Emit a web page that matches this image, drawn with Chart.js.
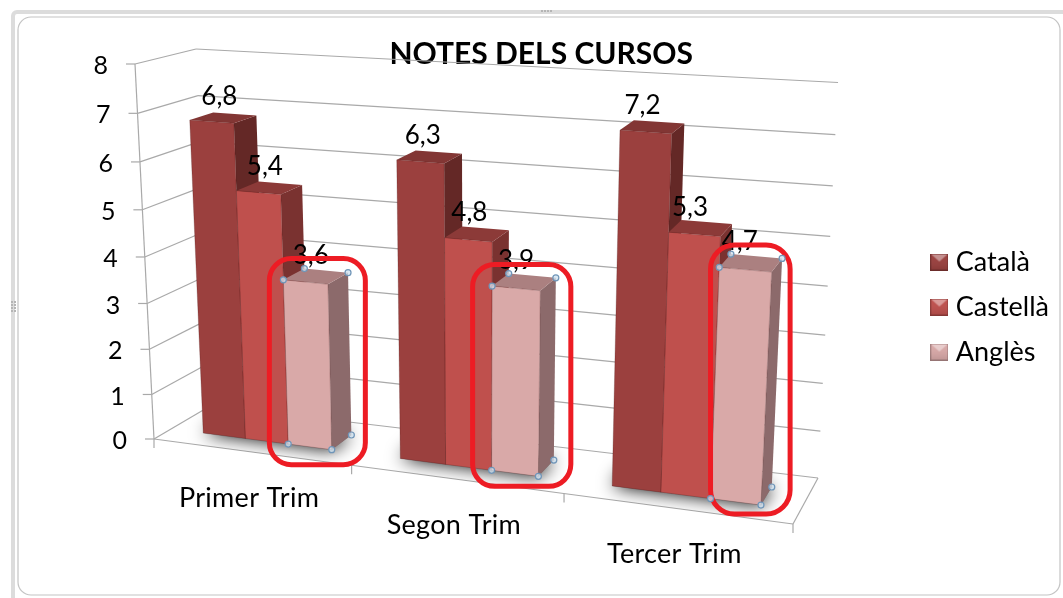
<!DOCTYPE html>
<html>
<head>
<meta charset="utf-8">
<style>html,body{margin:0;padding:0;background:#fff;overflow:hidden}canvas{display:block}</style>
<script src="https://cdn.jsdelivr.net/npm/chart.js@4"></script>
</head>
<body>
<canvas id="c" width="1063" height="598"></canvas>
<script>
const categories = ['Primer Trim', 'Segon Trim', 'Tercer Trim'];
const catala = [6.8, 6.3, 7.2];
const castella = [5.4, 4.8, 5.3];
const angles = [3.6, 3.9, 4.7];
const seriesNames = ['Català', 'Castellà', 'Anglès'];
const chartTitle = 'NOTES DELS CURSOS';

const FONT = 'Lato, Carlito, Calibri, sans-serif';
const faces = [
  {front:'#9b403e', side:'#642826', top:'#823634'},
  {front:'#bf504d', side:'#7a3230', top:'#8c3a38'},
  {front:'#d9a9a8', side:'#8c6a6b', top:'#ab8080'}
];

function homography(p00,p10,p11,p01){
  const sx=p00[0]-p10[0]+p11[0]-p01[0], sy=p00[1]-p10[1]+p11[1]-p01[1];
  const dx1=p10[0]-p11[0], dx2=p01[0]-p11[0], dy1=p10[1]-p11[1], dy2=p01[1]-p11[1];
  const den=dx1*dy2-dx2*dy1;
  const g=(sx*dy2-dx2*sy)/den, h=(dx1*sy-sx*dy1)/den;
  const a=p10[0]-p00[0]+g*p10[0], b=p01[0]-p00[0]+h*p01[0];
  const d=p10[1]-p00[1]+g*p10[1], e=p01[1]-p00[1]+h*p01[1];
  return (u,v)=>{const q=g*u+h*v+1;return [(a*u+b*v+p00[0])/q,(d*u+e*v+p00[1])/q];};
}
const frontPlane = homography([154,439],[793,524],[815,108],[135,64]);
const backPlane = homography([211,405.5],[818,478],[838,82.5],[196,49]);
function project(u,v,w){
  const f=frontPlane(u,v), b=backPlane(u,v);
  return [f[0]+(b[0]-f[0])*w, f[1]+(b[1]-f[1])*w];
}
const BAR_W0=0.30, BAR_W1=0.70;

function poly(ctx,pts,fill,stroke){
  ctx.beginPath();
  pts.forEach((p,i)=>i?ctx.lineTo(p[0],p[1]):ctx.moveTo(p[0],p[1]));
  ctx.closePath();
  if(fill){ctx.fillStyle=fill;ctx.fill();}
  if(stroke){ctx.strokeStyle=stroke;ctx.lineWidth=1;ctx.stroke();}
}
function line(ctx,a,b,color,lw){
  ctx.beginPath();ctx.moveTo(a[0],a[1]);ctx.lineTo(b[0],b[1]);
  ctx.strokeStyle=color;ctx.lineWidth=lw||1;ctx.stroke();
}
function barBox(chart,el){
  const A=chart.chartArea;
  return {
    u0:(el.x-el.width/2-A.left)/A.width,
    u1:(el.x+el.width/2-A.left)/A.width,
    v:(A.bottom-el.y)/A.height,
    b:(A.bottom-el.base)/A.height
  };
}
function swatch(i){
  const c=document.createElement('canvas');c.width=18;c.height=17;
  const x=c.getContext('2d');
  x.fillStyle=faces[i].front;x.fillRect(0,0,18,17);
  const g=x.createLinearGradient(0,0,0,17);
  g.addColorStop(0,'rgba(255,255,255,0.0)');g.addColorStop(1,'rgba(0,0,0,0.12)');
  x.fillStyle=g;x.fillRect(0,0,18,17);
  x.beginPath();x.moveTo(1,1);x.lineTo(17,1);x.lineTo(9,8);x.closePath();
  x.fillStyle='rgba(255,255,255,0.42)';x.fill();
  x.strokeStyle='rgba(0,0,0,0.22)';x.lineWidth=1;x.strokeRect(.5,.5,17,16);
  return c;
}
const swatches=[swatch(0),swatch(1),swatch(2)];

const frame3d={
  id:'frame3d',
  beforeDraw(chart){
    const ctx=chart.ctx;
    ctx.save();
    ctx.fillStyle='#ffffff';ctx.fillRect(0,0,chart.width,chart.height);
    ctx.beginPath();ctx.roundRect(13,12,1070,600,4);
    ctx.strokeStyle='#dcdcdc';ctx.lineWidth=4;ctx.stroke();
    ctx.beginPath();ctx.roundRect(18,17,1042,578,13);
    ctx.strokeStyle='#c4c4c4';ctx.lineWidth=1.2;ctx.stroke();
    ctx.fillStyle='#b5b5b5';
    [541,544,547,550].forEach(x=>ctx.fillRect(x,10,2,2));
    [301,304,307,310].forEach(y=>{ctx.fillRect(11,y,2,2);ctx.fillRect(14,y,2,2);});
    ctx.restore();
  },
  beforeDatasetsDraw(chart){
    const ctx=chart.ctx, y=chart.scales.y, x=chart.scales.x, A=chart.chartArea;
    ctx.save();
    const GRID='#a9a9a9';
    y.ticks.forEach(t=>{
      const v=(A.bottom-y.getPixelForValue(t.value))/A.height;
      const f=project(0,v,0), bl=project(0,v,1), br=project(1,v,1);
      line(ctx,[f[0]-9,f[1]],f,GRID,1.2);
      line(ctx,f,bl,GRID,1.2);
      line(ctx,bl,br,GRID,1.2);
      ctx.fillStyle='#000';ctx.font='25px '+FONT;
      ctx.textAlign='right';ctx.textBaseline='middle';
      ctx.fillText(String(t.value),f[0]-27,f[1]+2);
    });
    line(ctx,project(0,0,0),project(0,1,0),GRID,1.2);
    line(ctx,project(0,0,0),project(1,0,0),GRID,1.2);
    line(ctx,project(1,0,0),project(1,0,1),GRID,1.2);
    const n=categories.length;
    for(let i=0;i<=n;i++){
      const p=project(i/n,0,0);
      line(ctx,p,[p[0],p[1]+9],GRID,1.2);
    }
    ctx.fillStyle='#000';ctx.font='27px '+FONT;ctx.textAlign='center';ctx.textBaseline='middle';
    ctx.letterSpacing='0.3px';
    categories.forEach((c,i)=>{
      const u=(x.getPixelForValue(i)-A.left)/A.width;
      const p=project(u,0,0);
      ctx.fillText(c,p[0]-2,p[1]+46);
    });
    ctx.letterSpacing='0px';
    ctx.restore();
  },
  beforeDatasetDraw(){ return false; },
  afterDatasetsDraw(chart){
    const ctx=chart.ctx, n=categories.length;
    const metas=chart.getSortedVisibleDatasetMetas();
    ctx.save();
    const floor=[project(0,0,0),project(1,0,0),project(1,0,1),project(0,0,1)];
    for(let i=0;i<n;i++){
      const first=barBox(chart,metas[0].data[i]), last=barBox(chart,metas[metas.length-1].data[i]);
      ctx.save();
      ctx.beginPath();floor.forEach((p,k)=>k?ctx.lineTo(p[0],p[1]):ctx.moveTo(p[0],p[1]));ctx.closePath();ctx.clip();
      ctx.shadowColor='rgba(0,0,0,1)';ctx.shadowBlur=18;
      const base=[project(first.u0,0,BAR_W0),project(last.u1,0,BAR_W0),project(last.u1,0,BAR_W1),project(first.u0,0,BAR_W1)];
      poly(ctx,base,'#777');
      ctx.restore();
    }
    for(let i=0;i<n;i++){
      metas.forEach((m,s)=>{
        const B=barBox(chart,m.data[i]), col=faces[s];
        const fb0=project(B.u0,B.b,BAR_W0), fb1=project(B.u1,B.b,BAR_W0),
              ft0=project(B.u0,B.v,BAR_W0), ft1=project(B.u1,B.v,BAR_W0),
              bb1=project(B.u1,B.b,BAR_W1), bt0=project(B.u0,B.v,BAR_W1), bt1=project(B.u1,B.v,BAR_W1);
        poly(ctx,[fb1,ft1,bt1,bb1],col.side);
        poly(ctx,[ft0,ft1,bt1,bt0],col.top);
        poly(ctx,[fb0,fb1,ft1,ft0],col.front,'rgba(60,10,10,0.22)');
      });
    }
    ctx.fillStyle='#000';ctx.font='26px '+FONT;ctx.textAlign='center';ctx.textBaseline='middle';
    metas.forEach(m=>{
      m.data.forEach((el,i)=>{
        const B=barBox(chart,el), um=(B.u0+B.u1)/2, p=project(um,B.v,(BAR_W0+BAR_W1)/2);
        const val=chart.data.datasets[m.index].data[i];
        ctx.fillText(String(val).replace('.',','),p[0]-(3+9*um),p[1]-21);
      });
    });
    const last=metas[metas.length-1];
    const pads=[[14,14,10,15,22],[19,15,9,10,22],[0,8,9,9,24]];
    last.data.forEach((el,i)=>{
      const B=barBox(chart,el);
      const pts=[project(B.u0,B.v,BAR_W0),project(B.u0,B.v,BAR_W1),project(B.u1,B.v,BAR_W1),
                 project(B.u0,B.b,BAR_W0),project(B.u1,B.b,BAR_W0),project(B.u1,B.b,BAR_W1)];
      const xs=pts.map(p=>p[0]), ys=pts.map(p=>p[1]);
      const P=pads[i];
      const l=Math.min(...xs)-P[0], r=Math.max(...xs)+P[1], t=Math.min(...ys)-P[2], b=Math.max(...ys)+P[3];
      ctx.beginPath();ctx.roundRect(l,t,r-l,b-t,P[4]);
      ctx.strokeStyle='#ed1c24';ctx.lineWidth=5;ctx.stroke();
      pts.forEach(p=>{
        ctx.beginPath();ctx.arc(p[0],p[1],3,0,Math.PI*2);
        ctx.fillStyle='rgba(205,225,240,0.75)';ctx.fill();
        ctx.strokeStyle='#6f95b8';ctx.lineWidth=1.2;ctx.stroke();
      });
    });
    ctx.restore();
  }
};

new Chart(document.getElementById('c').getContext('2d'),{
  type:'bar',
  data:{
    labels:categories,
    datasets:[
      {label:seriesNames[0],data:catala,backgroundColor:faces[0].front},
      {label:seriesNames[1],data:castella,backgroundColor:faces[1].front},
      {label:seriesNames[2],data:angles,backgroundColor:faces[2].front}
    ]
  },
  plugins:[frame3d],
  options:{
    responsive:false,
    animation:false,
    devicePixelRatio:1,
    layout:{padding:{left:164,right:4,top:16,bottom:0}},
    datasets:{bar:{categoryPercentage:0.66,barPercentage:1}},
    scales:{
      x:{display:false},
      y:{display:false,min:0,max:8,ticks:{stepSize:1}}
    },
    plugins:{
      tooltip:{enabled:false},
      title:{display:true,text:chartTitle,fullSize:false,color:'#000',
        font:{family:FONT,size:30,weight:'bold'},padding:{top:20,bottom:8}},
      legend:{position:'right',
        labels:{usePointStyle:true,pointStyleWidth:6,padding:18,color:'#000',
          font:{family:FONT,size:27},
          generateLabels(chart){
            return chart.data.datasets.map((d,i)=>({text:d.label,pointStyle:swatches[i],fillStyle:d.backgroundColor,
              strokeStyle:d.backgroundColor,lineWidth:0,fontColor:'#000',datasetIndex:i,hidden:false}));
          }}}
    }
  }
});
</script>
</body>
</html>
